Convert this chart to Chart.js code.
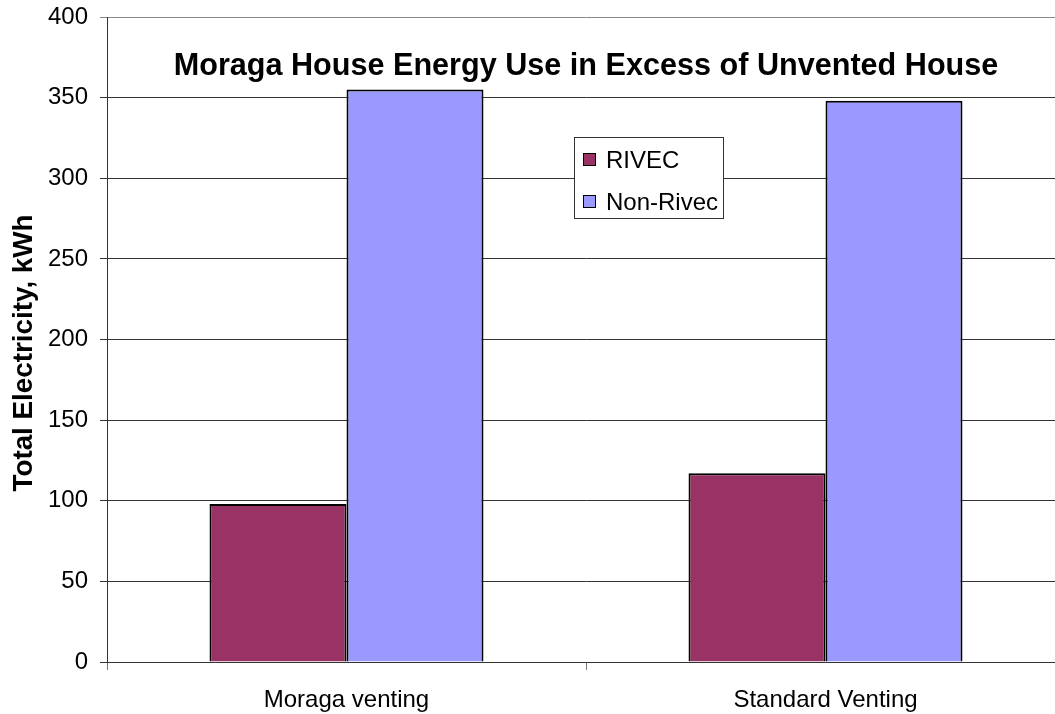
<!DOCTYPE html>
<html>
<head>
<meta charset="utf-8">
<script src="https://cdn.jsdelivr.net/npm/chart.js@4/dist/chart.umd.min.js"></script>
<style>
  html, body { margin: 0; padding: 0; background: #fff; overflow: hidden; }
  #wrap { width: 1080px; height: 714px; }
</style>
</head>
<body>
<div id="wrap"><canvas id="chart" width="1080" height="714"></canvas></div>
<script>
// Data
const categories = ['Moraga venting', 'Standard Venting'];
const seriesNames = ['RIVEC', 'Non-Rivec'];
const rivecValues = [98, 117];
const nonRivecValues = [355, 348];
const yTickValues = [0, 50, 100, 150, 200, 250, 300, 350, 400];
const chartTitle = 'Moraga House Energy Use in Excess of Unvented House';
const yAxisTitle = 'Total Electricity, kWh';

const colors = ['#993366', '#9999FF'];
const FONT = '"Liberation Sans", Arial, sans-serif';

/* ---------- title, y title and boxed legend inside the plot ---------- */
const overlay = {
  id: 'overlay',
  afterDraw(chart) {
    const { ctx, chartArea: a } = chart;
    ctx.save();
    ctx.fillStyle = '#000';

    // chart title
    ctx.font = `bold 30.6px ${FONT}`;
    ctx.textAlign = 'center';
    ctx.textBaseline = 'alphabetic';
    ctx.fillText(chartTitle, (a.left + a.right) / 2, a.top + 58);

    // y axis title
    ctx.save();
    ctx.translate(24, 353);
    ctx.rotate(-Math.PI / 2);
    ctx.font = `bold 27.8px ${FONT}`;
    ctx.textBaseline = 'middle';
    ctx.fillText(yAxisTitle, 0, 0);
    ctx.restore();

    // legend
    const lx = 574.5, ly = 137.5, lw = 149, lh = 81;
    ctx.fillStyle = '#fff';
    ctx.fillRect(lx, ly, lw, lh);
    ctx.strokeStyle = '#333';
    ctx.lineWidth = 1;
    ctx.strokeRect(lx, ly, lw, lh);
    ctx.font = `24px ${FONT}`;
    ctx.textAlign = 'left';
    chart.data.datasets.forEach((ds, i) => {
      const y = 153.5 + i * 42;
      ctx.fillStyle = ds.backgroundColor;
      ctx.fillRect(583.5, y, 12, 12);
      ctx.strokeStyle = '#000';
      ctx.strokeRect(583.5, y, 12, 12);
      ctx.fillStyle = '#000';
      ctx.fillText(ds.label, 606, y + 14);
    });
    ctx.restore();
  }
};

new Chart(document.getElementById('chart'), {
  type: 'bar',
  data: {
    labels: categories,
    datasets: [
      { label: seriesNames[0], data: rivecValues, backgroundColor: colors[0], borderColor: '#000', borderWidth: 2 },
      { label: seriesNames[1], data: nonRivecValues, backgroundColor: colors[1], borderColor: '#000', borderWidth: 2 }
    ]
  },
  options: {
    responsive: false,
    animation: false,
    layout: { padding: { top: 17, right: 15, left: 0, bottom: 0 } },
    datasets: { bar: { barPercentage: 1, categoryPercentage: 0.572 } },
    plugins: { legend: { display: false }, title: { display: false }, tooltip: { enabled: false } },
    scales: {
      x: {
        afterFit: (s) => { s.height = 52; s.paddingLeft = 0; s.paddingRight = 0; },
        grid: { offset: true, drawOnChartArea: false, tickLength: 8, color: '#777' },
        border: { color: '#333', width: 1 },
        ticks: { color: '#000', font: { family: FONT, size: 24 }, padding: 16, maxRotation: 0, autoSkip: false }
      },
      y: {
        min: 0,
        max: 400,
        afterFit: (s) => { s.width = 107; s.paddingTop = 0; s.paddingBottom = 0; },
        afterBuildTicks: (s) => { s.ticks = yTickValues.map(v => ({ value: v })); },
        grid: {
          tickLength: 7,
          color: (c) => c.tick && c.tick.value === 400 ? '#888' : '#333'
        },
        border: { color: '#333', width: 1 },
        ticks: { color: '#000', font: { family: FONT, size: 24 }, padding: 12 }
      }
    }
  },
  plugins: [overlay]
});
</script>
</body>
</html>
